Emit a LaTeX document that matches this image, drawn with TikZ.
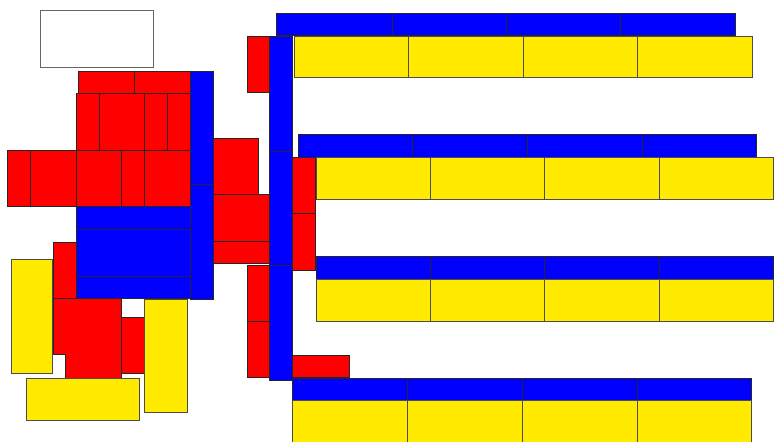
\documentclass[tikz,border=0pt]{standalone}
\usepackage{tikz}
\usepackage{xcolor}
\definecolor{planred}{RGB}{255,0,0}
\definecolor{planblue}{RGB}{0,0,255}
\definecolor{planyellow}{RGB}{255,234,0}

\begin{document}
\begin{tikzpicture}[x=0.03cm,y=-0.03cm]
  \tikzset{redblock/.style={fill=planred,draw=black!85,line width=0.5pt}}
  \tikzset{blueblock/.style={fill=planblue,draw=black!85,line width=0.5pt}}
  \tikzset{yellowblock/.style={fill=planyellow,draw=black!70,line width=0.5pt}}
  \tikzset{emptyblock/.style={fill=white,draw=black!60,line width=0.7pt}}
  \useasboundingbox (0,0) rectangle (774,441);
  \clip (0,0) rectangle (774,441);
  % left cluster
  \draw[emptyblock] (40,10) rectangle (153,67);
  \draw[redblock] (78,71) rectangle (134,93);
  \draw[redblock] (134,71) rectangle (190,93);
  \draw[redblock] (76,93) rectangle (99,150);
  \draw[redblock] (99,93) rectangle (144,150);
  \draw[redblock] (144,93) rectangle (167,150);
  \draw[redblock] (167,93) rectangle (190,150);
  \draw[redblock] (7,150) rectangle (30,206);
  \draw[redblock] (30,150) rectangle (76,206);
  \draw[redblock] (76,150) rectangle (121,206);
  \draw[redblock] (121,150) rectangle (144,206);
  \draw[redblock] (144,150) rectangle (190,206);
  \draw[blueblock] (190,71) rectangle (213,184);
  \draw[blueblock] (190,184) rectangle (213,299);
  \draw[blueblock] (76,206) rectangle (190,229);
  \draw[blueblock] (76,229) rectangle (190,276);
  \draw[blueblock] (76,276) rectangle (190,298);
  \draw[redblock] (53,242) rectangle (76,298);
  \draw[redblock] (53,298) -- (121,298) -- (121,378) -- (65,378) -- (65,354) -- (53,354) -- cycle;
  \draw[redblock] (121,317) rectangle (144,373);
  \draw[yellowblock] (11,259) rectangle (52,373);
  \draw[yellowblock] (26,378) rectangle (139,420);
  \draw[yellowblock] (144,299) rectangle (187,412);
  \draw[redblock] (213,138) rectangle (258,194);
  \draw[redblock] (213,194) rectangle (269,241);
  \draw[redblock] (213,241) rectangle (269,263);
  % spine
  \draw[redblock] (247,36) rectangle (269,92);
  \draw[redblock] (247,265) rectangle (269,321);
  \draw[redblock] (247,321) rectangle (269,377);
  \draw[blueblock] (269,36) rectangle (292,151);
  \draw[blueblock] (269,151) rectangle (292,265);
  \draw[blueblock] (269,265) rectangle (292,380);
  \draw[redblock] (292,157) rectangle (315,213);
  \draw[redblock] (292,213) rectangle (315,270);
  \draw[redblock] (292,355) rectangle (349,377);
  % rows
  \foreach \xa/\xb in {276/392,392/506,506/620,620/735}
    \draw[blueblock] (\xa,13) rectangle (\xb,35);
  \foreach \xa/\xb in {294/408,408/523,523/637,637/752}
    \draw[yellowblock] (\xa,36) rectangle (\xb,77);
  \foreach \xa/\xb in {298/412,412/527,527/642,642/756}
    \draw[blueblock] (\xa,134) rectangle (\xb,157);
  \foreach \xa/\xb in {316/430,430/544,544/659,659/773}
    \draw[yellowblock] (\xa,157) rectangle (\xb,199);
  \foreach \xa/\xb in {316/430,430/544,544/659,659/773}
    \draw[blueblock] (\xa,256) rectangle (\xb,279);
  \foreach \xa/\xb in {316/430,430/544,544/659,659/773}
    \draw[yellowblock] (\xa,279) rectangle (\xb,321);
  \foreach \xa/\xb in {292/407,407/522,522/637,637/751}
    \draw[blueblock] (\xa,378) rectangle (\xb,400);
  \foreach \xa/\xb in {292/407,407/522,522/637,637/751}
    \draw[yellowblock] (\xa,400) rectangle (\xb,446);
\end{tikzpicture}
\end{document}
